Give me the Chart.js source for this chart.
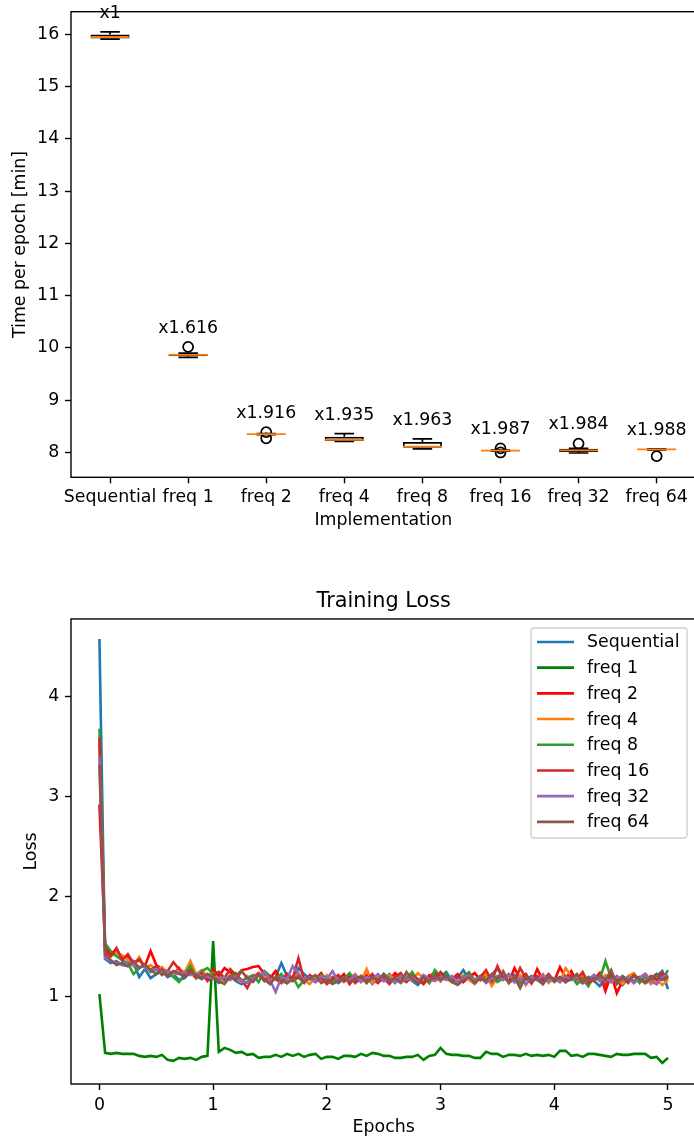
<!DOCTYPE html>
<html>
<head>
<meta charset="utf-8">
<script src="https://cdn.jsdelivr.net/npm/chart.js@4.4.1/dist/chart.umd.min.js"></script>
<style>
  html, body { margin: 0; padding: 0; background: #fff; overflow: hidden; width: 694px; height: 1142px; }
  canvas { position: absolute; left: 0; }
  #timeChart { top: 0; }
  #lossChart { top: 560px; }
</style>
</head>
<body>
<canvas id="timeChart" width="720" height="540"></canvas>
<canvas id="lossChart" width="720" height="582"></canvas>
<script>
// ---- time per epoch (box plot) ----
const implementations = ["Sequential", "freq 1", "freq 2", "freq 4", "freq 8", "freq 16", "freq 32", "freq 64"];
const whiskerLow  = [15.91, 9.82, 8.34, 8.21, 8.07, 8.025, 7.99, 8.05];
const q1          = [15.92, 9.84, 8.345, 8.22, 8.09, 8.03, 8.01, 8.055];
const median      = [15.95, 9.87, 8.35, 8.24, 8.11, 8.035, 8.04, 8.06];
const q3          = [16.00, 9.89, 8.355, 8.30, 8.20, 8.04, 8.07, 8.065];
const whiskerHigh = [16.05, 9.90, 8.36, 8.36, 8.26, 8.045, 8.08, 8.07];
const outliers    = [[], [10.02], [8.39, 8.27], [], [], [8.08, 8.00], [8.17], [7.93]];
const speedups    = ["x1", "x1.616", "x1.916", "x1.935", "x1.963", "x1.987", "x1.984", "x1.988"];
const timeTicks   = [8, 9, 10, 11, 12, 13, 14, 15, 16];

// ---- training loss (20 logged steps per epoch) ----
const STEPS_PER_EPOCH = 20;
const epochTicks = [0, 1, 2, 3, 4, 5];
const lossTicks = [1, 2, 3, 4];
const seriesNames = ["Sequential", "freq 1", "freq 2", "freq 4", "freq 8", "freq 16", "freq 32", "freq 64"];
const seriesColors = ["#1f77b4", "#008000", "#ff0000", "#ff7f0e", "#2ca02c", "#d62728", "#9467bd", "#8c564b"];

const lossSequential = [4.58, 1.37, 1.33, 1.35, 1.31, 1.30, 1.33, 1.19, 1.27, 1.18, 1.22, 1.25, 1.19, 1.22, 1.16, 1.18, 1.24, 1.20, 1.17, 1.22, 1.18,
  1.13, 1.16, 1.20, 1.15, 1.12, 1.14, 1.18, 1.21, 1.16, 1.13, 1.19, 1.33, 1.20, 1.16, 1.28, 1.22, 1.17, 1.14, 1.18, 1.15,
  1.19, 1.13, 1.17, 1.21, 1.14, 1.16, 1.20, 1.12, 1.18, 1.15, 1.22, 1.17, 1.13, 1.19, 1.15, 1.11, 1.18, 1.16, 1.22, 1.19,
  1.24, 1.15, 1.18, 1.26, 1.17, 1.14, 1.20, 1.16, 1.21, 1.28, 1.18, 1.15, 1.21, 1.13, 1.17, 1.20, 1.16, 1.12, 1.19, 1.15,
  1.18, 1.14, 1.21, 1.16, 1.13, 1.19, 1.15, 1.10, 1.17, 1.20, 1.14, 1.11, 1.18, 1.15, 1.19, 1.13, 1.16, 1.20, 1.25, 1.07];
const lossFreq1 = [1.02, 0.43, 0.42, 0.43, 0.42, 0.42, 0.42, 0.40, 0.39, 0.40, 0.39, 0.41, 0.36, 0.35, 0.38, 0.37, 0.38, 0.36, 0.39, 0.40, 1.55,
  0.44, 0.48, 0.46, 0.43, 0.44, 0.41, 0.42, 0.38, 0.39, 0.39, 0.41, 0.39, 0.42, 0.40, 0.42, 0.39, 0.41, 0.42, 0.37, 0.39,
  0.39, 0.37, 0.40, 0.40, 0.39, 0.42, 0.40, 0.43, 0.42, 0.40, 0.40, 0.38, 0.38, 0.39, 0.39, 0.41, 0.36, 0.40, 0.41, 0.48,
  0.42, 0.41, 0.41, 0.40, 0.40, 0.38, 0.38, 0.44, 0.42, 0.42, 0.39, 0.41, 0.41, 0.40, 0.42, 0.40, 0.41, 0.40, 0.41, 0.39,
  0.45, 0.45, 0.40, 0.41, 0.39, 0.42, 0.42, 0.41, 0.40, 0.39, 0.42, 0.41, 0.41, 0.42, 0.42, 0.42, 0.38, 0.39, 0.33, 0.38];
const lossFreq2 = [2.92, 1.50, 1.42, 1.47, 1.38, 1.40, 1.33, 1.36, 1.30, 1.45, 1.31, 1.27, 1.25, 1.22, 1.28, 1.20, 1.24, 1.18, 1.22, 1.16, 1.27,
  1.20, 1.28, 1.24, 1.19, 1.26, 1.27, 1.29, 1.30, 1.22, 1.18, 1.25, 1.16, 1.22, 1.15, 1.19, 1.13, 1.21, 1.17, 1.23, 1.14,
  1.18, 1.16, 1.22, 1.12, 1.19, 1.15, 1.21, 1.17, 1.13, 1.20, 1.16, 1.23, 1.18, 1.14, 1.20, 1.17, 1.12, 1.19, 1.24, 1.15,
  1.21, 1.17, 1.22, 1.14, 1.19, 1.23, 1.16, 1.21, 1.13, 1.18, 1.25, 1.14, 1.28, 1.17, 1.22, 1.13, 1.27, 1.16, 1.20, 1.15,
  1.29, 1.18, 1.25, 1.14, 1.20, 1.12, 1.17, 1.23, 1.05, 1.22, 1.03, 1.15, 1.19, 1.13, 1.18, 1.22, 1.16, 1.12, 1.20, 1.17];
const lossFreq4 = [3.55, 1.44, 1.40, 1.43, 1.41, 1.36, 1.30, 1.39, 1.28, 1.31, 1.26, 1.29, 1.23, 1.21, 1.27, 1.24, 1.35, 1.22, 1.26, 1.20, 1.23,
  1.17, 1.15, 1.21, 1.18, 1.14, 1.20, 1.16, 1.22, 1.19, 1.15, 1.18, 1.21, 1.14, 1.17, 1.23, 1.16, 1.12, 1.19, 1.15, 1.21,
  1.16, 1.20, 1.14, 1.18, 1.22, 1.15, 1.27, 1.13, 1.19, 1.16, 1.21, 1.17, 1.14, 1.20, 1.16, 1.23, 1.18, 1.13, 1.19, 1.15,
  1.20, 1.17, 1.14, 1.21, 1.16, 1.12, 1.19, 1.22, 1.10, 1.18, 1.25, 1.13, 1.17, 1.21, 1.11, 1.19, 1.16, 1.22, 1.13, 1.18,
  1.14, 1.28, 1.20, 1.15, 1.22, 1.13, 1.19, 1.16, 1.21, 1.14, 1.18, 1.12, 1.20, 1.23, 1.15, 1.19, 1.12, 1.17, 1.11, 1.16];
const lossFreq8 = [3.68, 1.53, 1.45, 1.40, 1.36, 1.33, 1.22, 1.28, 1.31, 1.24, 1.27, 1.21, 1.25, 1.19, 1.14, 1.22, 1.30, 1.18, 1.25, 1.28, 1.22,
  1.24, 1.16, 1.19, 1.23, 1.15, 1.18, 1.21, 1.14, 1.25, 1.20, 1.17, 1.22, 1.13, 1.19, 1.09, 1.16, 1.20, 1.15, 1.21, 1.18,
  1.14, 1.20, 1.17, 1.23, 1.15, 1.19, 1.13, 1.21, 1.16, 1.22, 1.18, 1.14, 1.20, 1.17, 1.24, 1.15, 1.19, 1.13, 1.26, 1.20,
  1.22, 1.17, 1.13, 1.19, 1.24, 1.16, 1.20, 1.15, 1.21, 1.14, 1.18, 1.22, 1.17, 1.13, 1.20, 1.16, 1.19, 1.15, 1.21, 1.14,
  1.18, 1.15, 1.20, 1.12, 1.17, 1.10, 1.21, 1.16, 1.35, 1.18, 1.14, 1.20, 1.16, 1.21, 1.13, 1.19, 1.15, 1.22, 1.17, 1.26];
const lossFreq16 = [3.59, 1.46, 1.40, 1.48, 1.36, 1.42, 1.33, 1.37, 1.29, 1.26, 1.30, 1.22, 1.25, 1.34, 1.27, 1.21, 1.26, 1.19, 1.23, 1.15, 1.20,
  1.24, 1.18, 1.27, 1.21, 1.16, 1.08, 1.19, 1.23, 1.15, 1.20, 1.17, 1.13, 1.22, 1.18, 1.38, 1.16, 1.20, 1.14, 1.19, 1.12,
  1.17, 1.21, 1.15, 1.19, 1.13, 1.20, 1.16, 1.22, 1.14, 1.18, 1.12, 1.19, 1.23, 1.15, 1.20, 1.17, 1.13, 1.21, 1.16, 1.24,
  1.18, 1.14, 1.20, 1.16, 1.22, 1.13, 1.19, 1.26, 1.15, 1.30, 1.17, 1.21, 1.14, 1.28, 1.18, 1.13, 1.20, 1.16, 1.22, 1.15,
  1.19, 1.14, 1.21, 1.17, 1.24, 1.13, 1.20, 1.16, 1.11, 1.22, 1.15, 1.19, 1.13, 1.21, 1.17, 1.14, 1.20, 1.16, 1.23, 1.18];
const lossFreq32 = [3.40, 1.38, 1.35, 1.33, 1.32, 1.34, 1.31, 1.29, 1.30, 1.26, 1.27, 1.24, 1.25, 1.23, 1.22, 1.24, 1.21, 1.22, 1.20, 1.19, 1.18,
  1.17, 1.19, 1.16, 1.20, 1.15, 1.13, 1.18, 1.21, 1.24, 1.16, 1.04, 1.19, 1.17, 1.30, 1.22, 1.16, 1.19, 1.14, 1.20, 1.17,
  1.25, 1.15, 1.18, 1.16, 1.21, 1.14, 1.19, 1.17, 1.22, 1.15, 1.18, 1.13, 1.20, 1.16, 1.19, 1.14, 1.21, 1.17, 1.15, 1.19,
  1.16, 1.20, 1.14, 1.18, 1.21, 1.15, 1.19, 1.13, 1.17, 1.20, 1.16, 1.22, 1.14, 1.18, 1.12, 1.19, 1.16, 1.21, 1.15, 1.18,
  1.14, 1.20, 1.16, 1.19, 1.13, 1.17, 1.21, 1.15, 1.18, 1.14, 1.20, 1.16, 1.19, 1.13, 1.18, 1.22, 1.15, 1.12, 1.19, 1.21];
const lossFreq64 = [3.32, 1.42, 1.36, 1.31, 1.33, 1.30, 1.35, 1.28, 1.32, 1.26, 1.22, 1.27, 1.20, 1.25, 1.23, 1.19, 1.24, 1.21, 1.18, 1.22, 1.19,
  1.15, 1.12, 1.20, 1.16, 1.25, 1.18, 1.14, 1.21, 1.17, 1.12, 1.19, 1.15, 1.13, 1.17, 1.20, 1.14, 1.18, 1.21, 1.13, 1.16,
  1.12, 1.15, 1.18, 1.14, 1.17, 1.20, 1.13, 1.19, 1.16, 1.22, 1.15, 1.18, 1.14, 1.24, 1.17, 1.13, 1.19, 1.15, 1.21, 1.16,
  1.20, 1.14, 1.11, 1.16, 1.19, 1.13, 1.18, 1.15, 1.22, 1.17, 1.24, 1.13, 1.19, 1.08, 1.20, 1.15, 1.18, 1.12, 1.21, 1.16,
  1.19, 1.14, 1.17, 1.22, 1.13, 1.18, 1.15, 1.21, 1.16, 1.26, 1.12, 1.19, 1.15, 1.20, 1.17, 1.13, 1.18, 1.22, 1.16, 1.20];

const lossSeries = [lossSequential, lossFreq1, lossFreq2, lossFreq4, lossFreq8, lossFreq16, lossFreq32, lossFreq64];

(() => {
  const FONT = "'DejaVu Sans', sans-serif";
  const FS = 17.36;
  Chart.defaults.font.family = FONT;
  Chart.defaults.font.size = FS;
  Chart.defaults.color = "#000";
  Chart.defaults.animation = false;
  Chart.defaults.events = [];

  const AXIS_W = 1.39;

  // matplotlib-like frame around the plot area
  const framePlugin = {
    id: "frame",
    afterDatasetsDraw(chart) {
      const { ctx, chartArea: a } = chart;
      ctx.save();
      ctx.strokeStyle = "#000";
      ctx.lineWidth = AXIS_W;
      ctx.strokeRect(a.left, a.top, a.right - a.left, a.bottom - a.top);
      ctx.restore();
    }
  };

  const axis = (pad, extra) => Object.assign({
    border: { display: false },
    grid: { drawOnChartArea: false, drawTicks: true, tickLength: 6, tickColor: "#000", tickWidth: AXIS_W, offset: false },
    ticks: { padding: pad, autoSkip: false, maxRotation: 0, minRotation: 0, color: "#000" }
  }, extra);

  const fixTicks = list => scale => { scale.ticks = list.map(v => ({ value: v })); };
  const fixWidth = w => s => { s.width = w; s.paddingTop = 0; s.paddingBottom = 0; };
  const fixHeight = h => s => { s.height = h; s.paddingLeft = 0; s.paddingRight = 0; };

  // ---------- box plot ----------
  const boxPlugin = {
    id: "boxParts",
    afterDatasetsDraw(chart) {
      const { ctx, scales: { x, y } } = chart;
      const bars = chart.getDatasetMeta(0).data;
      ctx.save();
      ctx.lineWidth = 1.74;
      implementations.forEach((name, i) => {
        const cx = x.getPixelForValue(i);
        const half = bars[i].width / 2;
        const cap = half / 2;
        ctx.strokeStyle = "#000";
        ctx.beginPath();
        ctx.moveTo(cx, y.getPixelForValue(q3[i]));
        ctx.lineTo(cx, y.getPixelForValue(whiskerHigh[i]));
        ctx.moveTo(cx - cap, y.getPixelForValue(whiskerHigh[i]));
        ctx.lineTo(cx + cap, y.getPixelForValue(whiskerHigh[i]));
        ctx.moveTo(cx, y.getPixelForValue(q1[i]));
        ctx.lineTo(cx, y.getPixelForValue(whiskerLow[i]));
        ctx.moveTo(cx - cap, y.getPixelForValue(whiskerLow[i]));
        ctx.lineTo(cx + cap, y.getPixelForValue(whiskerLow[i]));
        ctx.stroke();

        ctx.strokeStyle = "#ff7f0e";
        ctx.beginPath();
        ctx.moveTo(cx - half, y.getPixelForValue(median[i]));
        ctx.lineTo(cx + half, y.getPixelForValue(median[i]));
        ctx.stroke();

        const top = Math.max(whiskerHigh[i], ...outliers[i]);
        ctx.fillStyle = "#000";
        ctx.font = `${FS}px ${FONT}`;
        ctx.textAlign = "center";
        ctx.textBaseline = "alphabetic";
        ctx.fillText(speedups[i], cx, y.getPixelForValue(top + 0.27));
      });
      ctx.restore();
    }
  };

  new Chart(document.getElementById("timeChart"), {
    type: "bar",
    data: {
      labels: implementations,
      datasets: [{
        label: "box",
        data: implementations.map((_, i) => [q1[i], q3[i]]),
        backgroundColor: "rgba(0,0,0,0)",
        borderColor: "#000",
        borderWidth: 1.74,
        borderSkipped: false,
        barPercentage: 0.5,
        categoryPercentage: 1
      }, {
        type: "line",
        label: "outliers",
        data: outliers.flatMap((vals, i) => vals.map(v => ({ x: implementations[i], y: v }))),
        showLine: false,
        pointStyle: "circle",
        pointRadius: 5,
        pointBorderColor: "#000",
        pointBackgroundColor: "rgba(0,0,0,0)",
        pointBorderWidth: 1.74
      }]
    },
    options: {
      responsive: false,
      layout: { padding: { left: 0, top: 11.7, right: 24.3, bottom: 4.7 } },
      plugins: { legend: { display: false }, tooltip: { enabled: false } },
      scales: {
        x: axis(3.8, {
          offset: true,
          afterFit: fixHeight(58),
          title: { display: true, text: "Implementation", padding: { top: 0, bottom: 3.9 } }
        }),
        y: axis(5.8, {
          type: "linear",
          min: 7.525,
          max: 16.435,
          bounds: "data",
          afterBuildTicks: fixTicks(timeTicks),
          afterFit: fixWidth(71),
          title: { display: true, text: "Time per epoch [min]", padding: { top: 9.6, bottom: 0 } }
        })
      }
    },
    plugins: [boxPlugin, framePlugin]
  });

  // ---------- training loss ----------
  const legendPlugin = {
    id: "boxLegend",
    afterDatasetsDraw(chart) {
      const { ctx, chartArea: a } = chart;
      const sets = chart.data.datasets;
      const w = 156, rowH = 25.7, h = 210;
      const x0 = a.right - 9.4 - w, y0 = a.top + 9;
      ctx.save();
      ctx.beginPath();
      ctx.roundRect(x0, y0, w, h, 3);
      ctx.fillStyle = "rgba(255,255,255,0.8)";
      ctx.fill();
      ctx.strokeStyle = "#d0d0d0";
      ctx.lineWidth = 1.39;
      ctx.stroke();
      ctx.font = `${FS}px ${FONT}`;
      ctx.textBaseline = "middle";
      ctx.textAlign = "left";
      sets.forEach((ds, i) => {
        const cy = y0 + 14 + i * rowH;
        ctx.strokeStyle = ds.borderColor;
        ctx.lineWidth = 2.6;
        ctx.beginPath();
        ctx.moveTo(x0 + 6, cy);
        ctx.lineTo(x0 + 43, cy);
        ctx.stroke();
        ctx.fillStyle = "#000";
        ctx.fillText(ds.label, x0 + 56, cy + 1);
      });
      ctx.restore();
    }
  };

  new Chart(document.getElementById("lossChart"), {
    type: "line",
    data: {
      labels: lossSequential.map((_, i) => i / STEPS_PER_EPOCH),
      datasets: lossSeries.map((values, i) => ({
        label: seriesNames[i],
        data: values,
        borderColor: seriesColors[i],
        backgroundColor: seriesColors[i],
        borderWidth: 2.6,
        pointRadius: 0,
        tension: 0,
        order: lossSeries.length - i
      }))
    },
    options: {
      responsive: false,
      layout: { padding: { left: 0, top: 0, right: 23.6, bottom: 2 } },
      plugins: {
        legend: { display: false },
        tooltip: { enabled: false },
        title: {
          display: true,
          text: "Training Loss",
          fullSize: false,
          color: "#000",
          font: { size: 20.8, weight: "normal" },
          padding: { top: 29, bottom: 5 }
        }
      },
      scales: {
        x: axis(4.6, {
          type: "linear",
          min: -0.25,
          max: 5.25,
          bounds: "data",
          afterBuildTicks: fixTicks(epochTicks),
          afterFit: fixHeight(56),
          title: { display: true, text: "Epochs", padding: { top: 0, bottom: 1.6 } }
        }),
        y: axis(5.8, {
          type: "linear",
          min: 0.118,
          max: 4.78,
          bounds: "data",
          afterBuildTicks: fixTicks(lossTicks),
          afterFit: fixWidth(71),
          title: { display: true, text: "Loss", padding: { top: 21.1, bottom: 0 } }
        })
      }
    },
    plugins: [framePlugin, legendPlugin]
  });
})();
</script>
</body>
</html>
